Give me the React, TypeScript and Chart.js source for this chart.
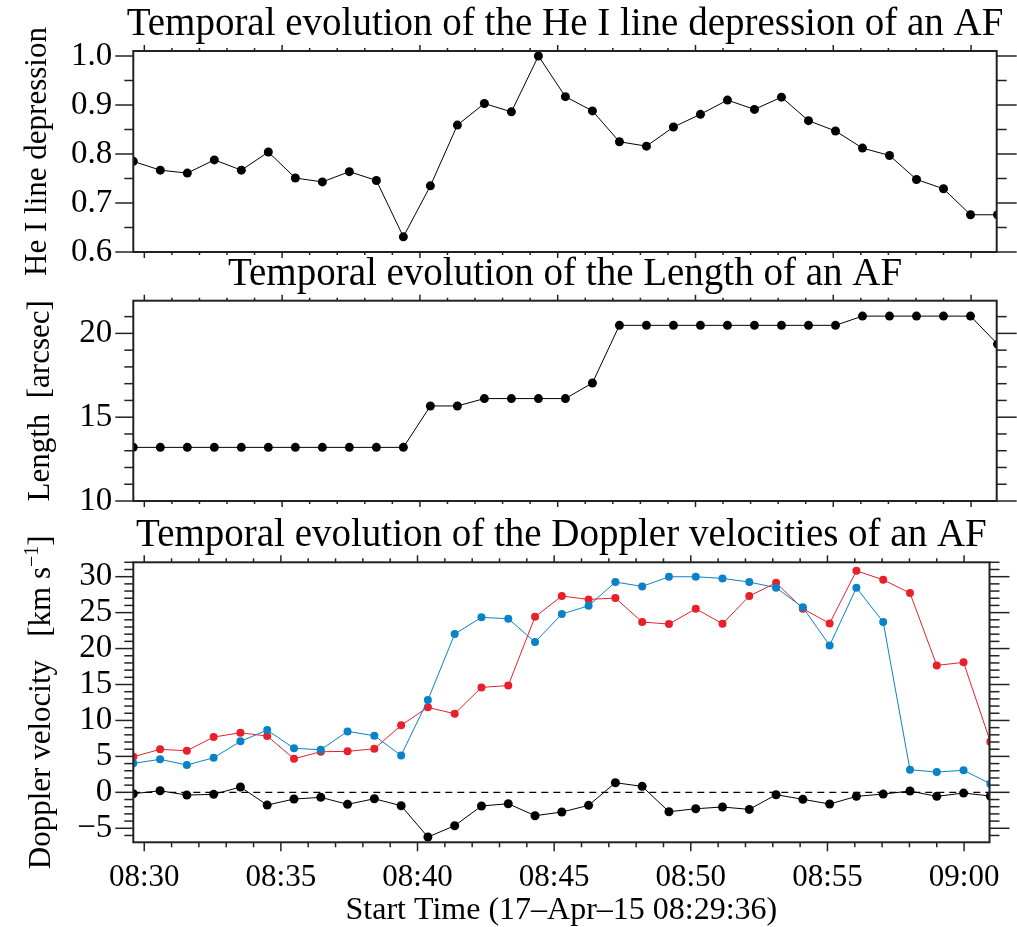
import React, { useEffect, useRef } from "react";
import { Chart, registerables } from "chart.js";

Chart.register(...registerables);

// ---------------- data ----------------
// observation times, minutes after 08:00 (start 08:29:36, ~59 s cadence)
const timeMinutes = [
  29.6, 30.58, 31.56, 32.54, 33.52, 34.5, 35.48, 36.46, 37.44, 38.42, 39.4,
  40.38, 41.36, 42.34, 43.32, 44.3, 45.28, 46.26, 47.24, 48.22, 49.2, 50.18,
  51.16, 52.14, 53.12, 54.1, 55.08, 56.06, 57.04, 58.02, 59.0, 59.98, 60.96,
];

const heDepression = [
  0.785, 0.767, 0.761, 0.788, 0.767, 0.804, 0.751, 0.743, 0.764, 0.746, 0.631,
  0.735, 0.859, 0.903, 0.886, 1.0, 0.917, 0.888, 0.825, 0.816, 0.855, 0.881,
  0.91, 0.891, 0.916, 0.868, 0.847, 0.812, 0.797, 0.748, 0.729, 0.676, 0.676,
];

const lengthArcsec = [
  13.2, 13.2, 13.2, 13.2, 13.2, 13.2, 13.2, 13.2, 13.2, 13.2, 13.2,
  15.67, 15.67, 16.11, 16.11, 16.11, 16.11, 17.04, 20.48, 20.48, 20.48, 20.48,
  20.48, 20.48, 20.48, 20.48, 20.48, 21.03, 21.03, 21.03, 21.03, 21.03, 19.36,
];

const dopplerRed = [
  4.95, 5.98, 5.79, 7.69, 8.29, 7.83, 4.67, 5.65, 5.7, 6.06, 9.32,
  11.82, 10.93, 14.6, 14.85, 24.42, 27.3, 26.84, 27.02, 23.69, 23.41, 25.54,
  23.45, 27.3, 29.15, 25.54, 23.5, 30.82, 29.57, 27.72, 17.66, 18.08, 7.04,
];

const dopplerBlue = [
  4.03, 4.59, 3.8, 4.81, 7.09, 8.66, 6.12, 5.93, 8.48, 7.87, 5.14,
  12.84, 22.02, 24.34, 24.15, 20.9, 24.8, 25.95, 29.25, 28.65, 29.99, 29.99,
  29.76, 29.25, 28.46, 25.73, 20.44, 28.46, 23.69, 3.14, 2.82, 3.06, 1.2,
];

const dopplerBlack = [
  -0.19, 0.22, -0.38, -0.28, 0.74, -1.77, -0.93, -0.7, -1.67, -0.89, -1.86,
  -6.22, -4.64, -1.9, -1.58, -3.25, -2.74, -1.81, 1.34, 0.83, -2.7, -2.28,
  -2.04, -2.37, -0.33, -0.97, -1.63, -0.56, -0.24, 0.18, -0.56, -0.1, -0.51,
];

const xTickValues = [30, 35, 40, 45, 50, 55, 60];
const xTickLabels = ["08:30", "08:35", "08:40", "08:45", "08:50", "08:55", "09:00"];

const heTickValues = [0.6, 0.7, 0.8, 0.9, 1.0];
const heTickLabels = ["0.6", "0.7", "0.8", "0.9", "1.0"];

const lenTickValues = [10, 15, 20];
const lenTickLabels = ["10", "15", "20"];

const dopTickValues = [-5, 0, 5, 10, 15, 20, 25, 30];
const dopTickLabels = ["\u22125", "0", "5", "10", "15", "20", "25", "30"];

const titleHe = "Temporal evolution of the He I line depression of an AF";
const titleLen = "Temporal evolution of the Length of an AF";
const titleDop = "Temporal evolution of the Doppler velocities of an AF";
const xAxisTitle = "Start Time (17\u2013Apr\u201315 08:29:36)";

// ---------------- styling ----------------
const W = 1017;
const H = 927;
const FONT = "'Liberation Serif', 'Times New Roman', serif";
const AXIS = "#222222";
const RED = "#e8202b";
const BLUE = "#0a82c8";
const X_MIN = 29.6;
const X_MAX = 60.93;

type Part = { text: string; size: number; raise?: number };

const idlAxes = {
  id: "idlAxes",
  afterDraw(chart: any, _args: any, opts: any) {
    const { ctx, chartArea: a, scales } = chart;
    const x = scales.x;
    const y = scales.y;
    ctx.save();
    ctx.strokeStyle = AXIS;
    ctx.lineCap = "butt";
    const seg = (x1: number, y1: number, x2: number, y2: number) => {
      ctx.beginPath();
      ctx.moveTo(x1, y1);
      ctx.lineTo(x2, y2);
      ctx.stroke();
    };
    ctx.lineWidth = 1.5;
    // x ticks (minor every minute, major every 5 minutes), outward
    for (let m = Math.ceil(x.min); m <= x.max; m += 1) {
      const px = x.getPixelForValue(m);
      const major = m % 5 === 0;
      const lt = major ? opts.xMajorTop : opts.xMinorTop;
      const lb = major ? opts.xMajorBot : opts.xMinorBot;
      seg(px, a.top, px, a.top - lt);
      seg(px, a.bottom, px, a.bottom + lb);
    }
    // y ticks, outward on both sides
    const k0 = Math.ceil(y.min / opts.yMinor - 1e-6);
    const k1 = Math.floor(y.max / opts.yMinor + 1e-6);
    const ratio = Math.round(opts.yMajor / opts.yMinor);
    for (let k = k0; k <= k1; k++) {
      const py = y.getPixelForValue(k * opts.yMinor);
      const major = ((k % ratio) + ratio) % ratio === 0;
      seg(a.left, py, a.left - (major ? 18 : 9), py);
      seg(a.right, py, a.right + (major ? 20 : 10), py);
    }
    // frame
    ctx.lineWidth = 2;
    ctx.strokeRect(a.left, a.top, a.right - a.left, a.bottom - a.top);
    ctx.restore();
  },
};

const idlText = {
  id: "idlText",
  afterDraw(chart: any, _args: any, opts: any) {
    const { ctx, chartArea: a } = chart;
    const cx = (a.left + a.right) / 2;
    ctx.save();
    ctx.fillStyle = "#000";
    ctx.textAlign = "center";
    ctx.textBaseline = "alphabetic";
    ctx.font = `39px ${FONT}`;
    ctx.fillText(opts.title, cx, opts.titleBaseline);
    if (opts.xTitle) {
      ctx.font = `32px ${FONT}`;
      ctx.fillText(opts.xTitle, cx, opts.xTitleBaseline);
    }
    // rotated y title
    const parts: Part[] = opts.yParts;
    const cy = (a.top + a.bottom) / 2;
    ctx.translate(opts.yTitleX, cy);
    ctx.rotate(-Math.PI / 2);
    ctx.textAlign = "left";
    let total = 0;
    const widths = parts.map((p) => {
      ctx.font = `${p.size}px ${FONT}`;
      const w = ctx.measureText(p.text).width;
      total += w;
      return w;
    });
    let px = -total / 2;
    parts.forEach((p, i) => {
      ctx.font = `${p.size}px ${FONT}`;
      ctx.fillText(p.text, px, -(p.raise || 0));
      px += widths[i];
    });
    ctx.restore();
  },
};

function makeConfig(panel: any) {
  return {
    type: "line",
    data: {
      datasets: panel.datasets,
    },
    options: {
      responsive: false,
      animation: false,
      events: [],
      layout: {
        padding: { top: panel.top, bottom: 0, left: 0, right: W - 996.7 },
      },
      plugins: {
        legend: { display: false },
        tooltip: { enabled: false },
        title: { display: false },
        idlAxes: panel.axes,
        idlText: panel.text,
      },
      scales: {
        x: {
          type: "linear",
          min: X_MIN,
          max: X_MAX,
          grid: { display: false, drawTicks: false },
          border: { display: false },
          afterBuildTicks: (s: any) => {
            s.ticks = xTickValues.map((v) => ({ value: v }));
          },
          afterFit: (s: any) => {
            s.height = H - panel.bottom;
          },
          ticks: {
            display: panel.showXLabels,
            font: { family: FONT, size: 31, lineHeight: 1.2 },
            color: "#000",
            padding: 17,
            maxRotation: 0,
            autoSkip: false,
            callback: (_v: any, i: number) => xTickLabels[i],
          },
        },
        y: {
          type: "linear",
          min: panel.yMin,
          max: panel.yMax,
          grid: { display: false, drawTicks: false },
          border: { display: false },
          afterBuildTicks: (s: any) => {
            s.ticks = panel.yTicks.map((v: number) => ({ value: v }));
          },
          afterFit: (s: any) => {
            s.width = 133.3;
          },
          ticks: {
            font: { family: FONT, size: 33 },
            color: "#000",
            padding: 21,
            autoSkip: false,
            callback: (_v: any, i: number) => panel.yLabels[i],
          },
        },
      },
    },
    plugins: [idlAxes, idlText],
  };
}

const pts = (vals: number[]) => vals.map((v, i) => ({ x: timeMinutes[i], y: v }));

const lineDs = (vals: number[], color: string, r: number) => ({
  data: pts(vals),
  borderColor: color,
  backgroundColor: color,
  borderWidth: 1,
  pointRadius: r,
  pointBorderWidth: 0,
  pointBackgroundColor: color,
  tension: 0,
});

const panels = [
  {
    top: 51,
    bottom: 252,
    yMin: 0.6,
    yMax: 1.0102,
    yTicks: heTickValues,
    yLabels: heTickLabels,
    showXLabels: false,
    datasets: [lineDs(heDepression, "#000", 4.5)],
    axes: { xMajorTop: 6, xMinorTop: 3, xMajorBot: 6, xMinorBot: 3, yMinor: 0.05, yMajor: 0.1 },
    text: {
      title: titleHe,
      titleBaseline: 35,
      yTitleX: 46,
      yParts: [{ text: "He I line depression", size: 31 }],
    },
  },
  {
    top: 300.7,
    bottom: 501,
    yMin: 10,
    yMax: 21.95,
    yTicks: lenTickValues,
    yLabels: lenTickLabels,
    showXLabels: false,
    datasets: [lineDs(lengthArcsec, "#000", 4.5)],
    axes: { xMajorTop: 6, xMinorTop: 3, xMajorBot: 6, xMinorBot: 3, yMinor: 1, yMajor: 5 },
    text: {
      title: titleLen,
      titleBaseline: 285,
      yTitleX: 49,
      yParts: [{ text: "Length  [arcsec]", size: 31 }],
    },
  },
  {
    top: 562.3,
    bottom: 842.3,
    yMin: -6.95,
    yMax: 32.0,
    yTicks: dopTickValues,
    yLabels: dopTickLabels,
    showXLabels: true,
    datasets: [
      lineDs(dopplerBlack, "#000", 4.5),
      lineDs(dopplerBlue, BLUE, 4),
      lineDs(dopplerRed, RED, 4),
      {
        data: [
          { x: X_MIN, y: 0 },
          { x: X_MAX, y: 0 },
        ],
        borderColor: "#000",
        borderWidth: 1.2,
        borderDash: [7, 5],
        pointRadius: 0,
      },
    ],
    axes: { xMajorTop: 7, xMinorTop: 4, xMajorBot: 9, xMinorBot: 5, yMinor: 1, yMajor: 5 },
    text: {
      title: titleDop,
      titleBaseline: 546,
      xTitle: xAxisTitle,
      xTitleBaseline: 919,
      yTitleX: 50,
      yParts: [
        { text: "Doppler velocity   [km s", size: 31 },
        { text: "\u22121", size: 20, raise: 12 },
        { text: "]", size: 31 },
      ],
    },
  },
];

function Panel({ spec }: { spec: any }) {
  const ref = useRef<HTMLCanvasElement | null>(null);
  useEffect(() => {
    if (!ref.current) return;
    const chart = new Chart(ref.current, makeConfig(spec) as any);
    return () => chart.destroy();
  }, [spec]);
  return (
    <canvas
      ref={ref}
      width={W}
      height={H}
      style={{ position: "absolute", left: 0, top: 0, width: W, height: H }}
    />
  );
}

export default function App() {
  return (
    <div
      style={{
        position: "absolute",
        left: 0,
        top: 0,
        width: W,
        height: H,
        background: "#fff",
        overflow: "hidden",
      }}
    >
      {panels.map((p, i) => (
        <Panel key={i} spec={p} />
      ))}
    </div>
  );
}
